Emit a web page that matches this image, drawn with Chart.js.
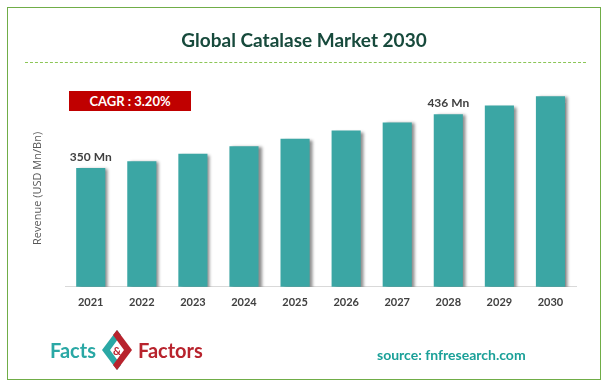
<!DOCTYPE html>
<html>
<head>
<meta charset="utf-8">
<script src="https://cdn.jsdelivr.net/npm/chart.js@4.4.1/dist/chart.umd.min.js"></script>
<style>
    html, body { margin: 0; padding: 0; background: #fff; }
    #wrap { position: relative; width: 608px; height: 388px; overflow: hidden; font-family: Lato, "Open Sans", sans-serif; }
    #frame { position: absolute; left: 7px; top: 7px; width: 594px; height: 373px; border: 1.5px solid #70ad47; box-sizing: border-box; }
    #title { position: absolute; left: 0; width: 608px; top: 28px; text-align: center; font-weight: bold; font-size: 19px; color: #174a3c; }
    #dash { position: absolute; left: 25px; width: 561px; top: 62px; border-top: 1.5px dashed #8cc657; }
    #cagr { position: absolute; left: 69px; top: 91px; width: 122px; height: 20px; background: #c00000; color: #fff; font-weight: bold; font-size: 13px; line-height: 20px; text-align: center; }
    #logo { position: absolute; left: 50px; top: 328px; height: 44px; display: flex; align-items: center; font-weight: bold; font-size: 20px; }
    #logo .a { color: #2aa8a5; }
    #logo .b { color: #b8232d; }
    #logo svg { margin: 0 3px; }
    #source { position: absolute; left: 377px; top: 346px; font-weight: bold; font-size: 14px; color: #1aa098; }
    canvas { position: absolute; left: 0; top: 0; }
</style>
</head>
<body>
<div id="wrap">
    <canvas id="chart" width="608" height="388"></canvas>
    <div id="frame"></div>
    <div id="title">Global Catalase Market 2030</div>
    <div id="dash"></div>
    <div id="cagr">CAGR : 3.20%</div>
    <div id="logo">
        <span class="a">Facts</span>
        <svg width="36" height="44" viewBox="0 0 36 44">
            <path d="M18 2 L3 22 L18 42 L22 37 L11 22 L22 7 Z" fill="#2aa8a5"/>
            <path d="M18 2 L33 22 L18 42 L14 37 L25 22 L14 7 Z" fill="#b8232d"/>
            <text x="18" y="27" font-size="11" font-weight="bold" fill="#b8232d" text-anchor="middle">&amp;</text>
        </svg>
        <span class="b">Factors</span>
    </div>
    <div id="source">source: fnfresearch.com</div>
</div>
<script>
const years = ["2021", "2022", "2023", "2024", "2025", "2026", "2027", "2028", "2029", "2030"]
const revenue = [350, 361, 373, 385, 397, 410, 423, 436, 450, 465]
const valueLabels = ["350 Mn", "", "", "", "", "", "", "436 Mn", "", ""]

const barShadow = {
    id: "barShadow",
    beforeDatasetsDraw(chart) {
        const ctx = chart.ctx
        ctx.save()
        ctx.shadowColor = "rgba(0, 0, 0, 0.45)"
        ctx.shadowOffsetX = 3
        ctx.shadowOffsetY = 1
        ctx.shadowBlur = 3
    },
    afterDatasetsDraw(chart) {
        chart.ctx.restore()
    }
}

const barLabels = {
    id: "barLabels",
    afterDatasetsDraw(chart) {
        const ctx = chart.ctx
        const bars = chart.getDatasetMeta(0).data
        ctx.save()
        ctx.font = "bold 12px Lato, 'Open Sans', sans-serif"
        ctx.fillStyle = "#404040"
        ctx.textAlign = "center"
        ctx.textBaseline = "bottom"
        bars.forEach((bar, i) => {
            if (valueLabels[i])
                ctx.fillText(valueLabels[i], bar.x, bar.y - 5)
        })
        ctx.restore()
    }
}

new Chart(document.getElementById("chart"), {
    type: "bar",
    data: {
        labels: years,
        datasets: [{
            data: revenue,
            backgroundColor: "#3ba6a4",
            barPercentage: 0.57,
            categoryPercentage: 1
        }]
    },
    options: {
        responsive: false,
        animation: false,
        layout: { padding: { left: 31, right: 32, top: 90, bottom: 70 } },
        plugins: { legend: { display: false }, tooltip: { enabled: false } },
        scales: {
            x: {
                grid: { display: false, drawTicks: false },
                border: { display: true, color: "#d9d9d9", width: 1 },
                ticks: { color: "#404040", padding: 9, font: { family: "Lato, 'Open Sans', sans-serif", size: 11, weight: "bold" } }
            },
            y: {
                min: 160,
                max: 475,
                grid: { display: false, drawTicks: false },
                border: { display: false },
                ticks: { display: false },
                title: {
                    display: true,
                    text: "Revenue (USD Mn/Bn)",
                    color: "#595959",
                    padding: { top: 0, bottom: 21 },
                    font: { family: "'Open Sans', sans-serif", size: 11 }
                }
            }
        }
    },
    plugins: [barShadow, barLabels]
})
</script>
</body>
</html>
